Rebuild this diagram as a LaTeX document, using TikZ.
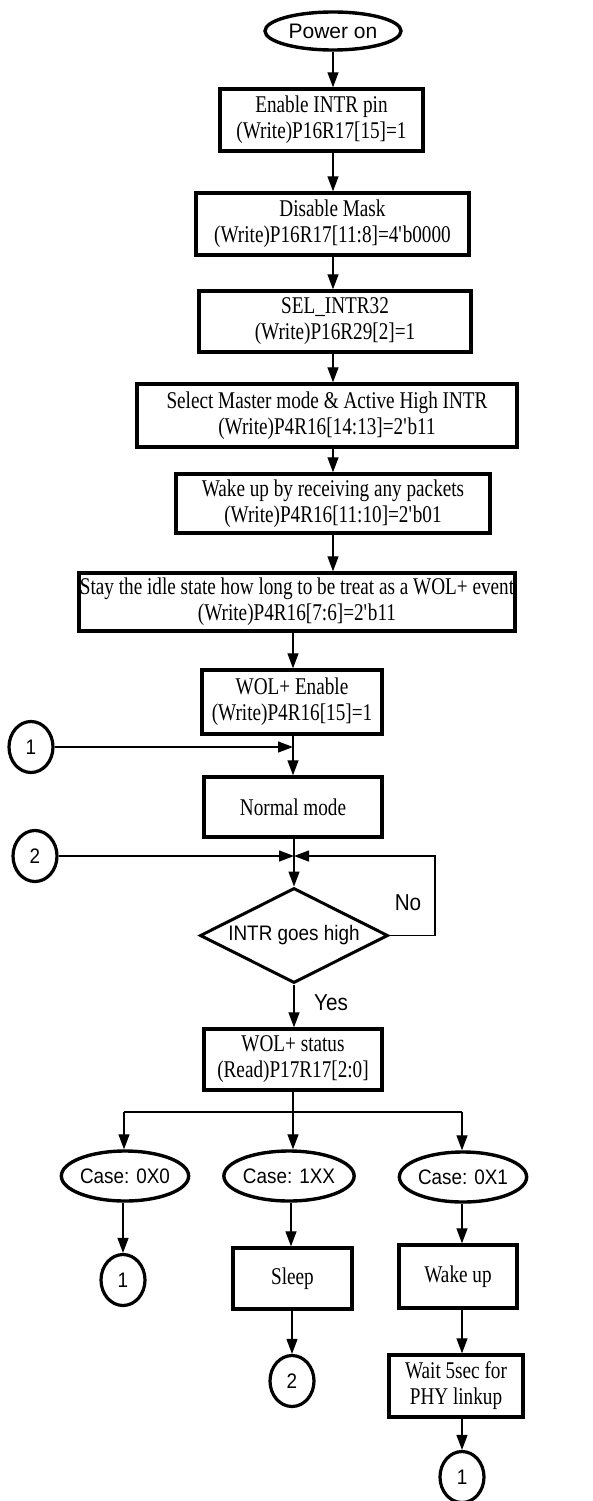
\documentclass[tikz,border=0pt]{standalone}
\usepackage{fontspec}
\setmainfont{Liberation Serif}
\setsansfont{Liberation Sans}
\newfontfamily\boxfont[FakeStretch=0.8]{Liberation Serif}
\newfontfamily\sansc[FakeStretch=0.9]{Liberation Sans}
\newcommand{\q}{\textquotesingle}
\usetikzlibrary{arrows.meta,shapes.geometric}
\tikzset{
  box/.style={draw, line width=3.4pt, rectangle, inner sep=0pt, align=center,
    font=\boxfont\fontsize{24}{26}\selectfont},
  oval/.style={draw, line width=3.4pt, ellipse, inner sep=0pt,
    font=\sansc\fontsize{21}{22}\selectfont},
  conn/.style={draw, line width=3.2pt, ellipse, inner sep=0pt,
    minimum width=44pt, minimum height=51pt, font=\sansc\fontsize{21}{22}\selectfont},
  arr/.style={line width=1.3pt, -{Triangle[length=15pt,width=11pt]}},
  ln/.style={line width=1.3pt},
  lbl/.style={font=\sansc\fontsize{23}{24}\selectfont}
}
\begin{document}
\begin{tikzpicture}[x=1pt,y=-1pt]
\useasboundingbox (0,0) rectangle (593,1501);
% flow columns
\coordinate (xa) at (333,0);
\coordinate (xb) at (293,0);
\coordinate (xl) at (124,0);
\coordinate (xm) at (291,0);
\coordinate (xr) at (462,0);

\node[oval, font=\sffamily\fontsize{21}{24}\selectfont, minimum width=136pt, minimum height=38pt] (pwr) at (333,31) {Power on};
\node[box, minimum width=203pt, minimum height=62pt] (b1) at (321.5,120) {Enable INTR pin\\(Write)P16R17[15]=1};
\node[box, minimum width=273pt, minimum height=62pt] (b2) at (332.5,224) {Disable Mask\\(Write)P16R17[11:8]=4\q b0000};
\node[box, minimum width=272pt, minimum height=61pt] (b3) at (335,321.5) {SEL\_INTR32\\(Write)P16R29[2]=1};
\node[box, minimum width=380pt, minimum height=63pt] (b4) at (327,415.5) {Select Master mode \& Active High INTR\\(Write)P4R16[14:13]=2\q b11};
\node[box, minimum width=314pt, minimum height=59pt] (b5) at (333,503.5) {Wake up by receiving any packets\\(Write)P4R16[11:10]=2\q b01};
\node[box, minimum width=436pt, minimum height=58pt] (b6) at (297,602) {Stay the idle state how long to be treat as a WOL+ event\\(Write)P4R16[7:6]=2\q b11};
\node[box, minimum width=180pt, minimum height=64pt] (b7) at (292,702) {WOL+ Enable\\(Write)P4R16[15]=1};
\node[box, minimum width=178pt, minimum height=60pt] (b8) at (293,807) {Normal mode};
\node[draw, line width=3pt, diamond, aspect=2, inner sep=0pt, minimum width=188pt, minimum height=95pt,
  font=\sansc\fontsize{21}{22}\selectfont] (dec) at (294,935.5) {INTR goes high};
\node[box, minimum width=178pt, minimum height=61pt] (b9) at (293,1059.5) {WOL+ status\\(Read)P17R17[2:0]};

\node[conn] (c1a) at (31,747) {1};
\node[conn] (c2a) at (35,856) {2};

\node[oval, minimum width=120pt, minimum height=50pt] (e0) at (125,1176) {Case: 0X0};
\node[oval, minimum width=120pt, minimum height=50pt] (e1) at (289,1176) {Case: 1XX};
\node[oval, minimum width=118pt, minimum height=50pt] (e2) at (463,1177) {Case: 0X1};

\node[conn] (c1b) at (123,1280) {1};
\node[box, minimum width=119pt, minimum height=61pt] (sl) at (292.5,1278.5) {Sleep};
\node[conn] (c2b) at (292,1381) {2};
\node[box, minimum width=118pt, minimum height=63pt] (wk) at (458,1276.5) {Wake up};
\node[box, minimum width=134pt, minimum height=62pt] (wt) at (456,1386) {Wait 5sec for\\PHY linkup};
\node[conn] (c1c) at (462,1477) {1};

\node[lbl] (no) at (408,903) {No};
\node[lbl] (yes) at (331,1003) {Yes};

% connectors
\draw[arr] (pwr.south -| xa) -- (b1.north -| xa);
\draw[arr] (b1.south -| xa) -- (b2.north -| xa);
\draw[arr] (b2.south -| xa) -- (b3.north -| xa);
\draw[arr] (b3.south -| xa) -- (b4.north -| xa);
\draw[arr] (b4.south -| xa) -- (b5.north -| xa);
\draw[arr] (b5.south -| xa) -- (b6.north -| xa);
\draw[arr] (b6.south -| xb) -- (b7.north -| xb);
\draw[arr] (b7.south -| xb) -- (b8.north -| xb);
\draw[arr] (c1a.east) -- (c1a.east -| xb);
\draw[arr] (b8.south -| dec.north) -- (dec.north);
\draw[arr] (c2a.east) -- (c2a.east -| dec.north);
\coordinate (lp) at (435,0);
\draw[arr] (dec.east) -- (dec.east -| lp) -- (c2a.east -| lp) -- (c2a.east -| dec.north);
\draw[arr] (dec.south) -- (b9.north -| dec.south);

\coordinate (br) at (0,1112);
\draw[ln] (b9.south -| xb) -- (br -| xb);
\draw[ln] (br -| xl) -- (br -| xr);
\draw[arr] (br -| xl) -- (e0.north -| xl);
\draw[arr] (br -| xb) -- (e1.north -| xb);
\draw[arr] (br -| xr) -- (e2.north -| xr);

\draw[arr] (e0.south -| c1b) -- (c1b.north);
\draw[arr] (e1.south -| xm) -- (sl.north -| xm);
\draw[arr] (sl.south -| c2b) -- (c2b.north);
\draw[arr] (e2.south -| xr) -- (wk.north -| xr);
\draw[arr] (wk.south -| xr) -- (wt.north -| xr);
\draw[arr] (wt.south -| c1c) -- (c1c.north);
\end{tikzpicture}
\end{document}
